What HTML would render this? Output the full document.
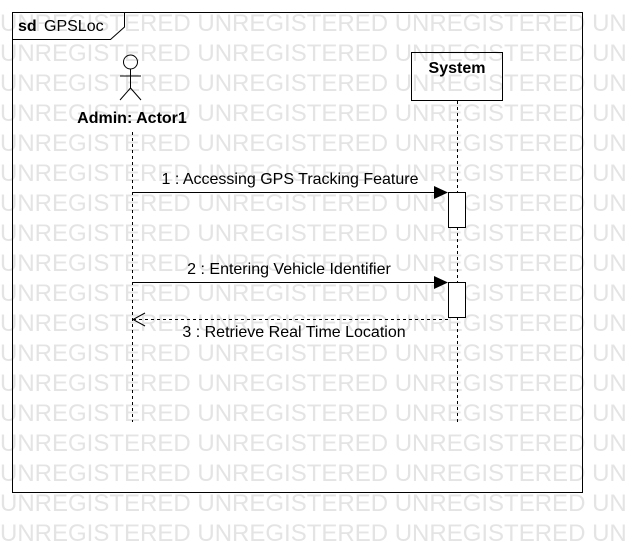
<!DOCTYPE html>
<html><head><style>
body{margin:0;width:632px;height:542px;background:#fff;overflow:hidden;font-family:"Liberation Sans",sans-serif}
</style></head><body>
<svg width="632" height="542" xmlns="http://www.w3.org/2000/svg" style="position:absolute;left:0;top:0">
<g font-family="Liberation Sans, sans-serif" font-size="24" fill="#e4e4e4">
<text x="0" y="31">UNREGISTERED UNREGISTERED UNREGISTERED UN</text>
<text x="0" y="61">UNREGISTERED UNREGISTERED UNREGISTERED UN</text>
<text x="0" y="91">UNREGISTERED UNREGISTERED UNREGISTERED UN</text>
<text x="0" y="121">UNREGISTERED UNREGISTERED UNREGISTERED UN</text>
<text x="0" y="151">UNREGISTERED UNREGISTERED UNREGISTERED UN</text>
<text x="0" y="181">UNREGISTERED UNREGISTERED UNREGISTERED UN</text>
<text x="0" y="211">UNREGISTERED UNREGISTERED UNREGISTERED UN</text>
<text x="0" y="241">UNREGISTERED UNREGISTERED UNREGISTERED UN</text>
<text x="0" y="271">UNREGISTERED UNREGISTERED UNREGISTERED UN</text>
<text x="0" y="301">UNREGISTERED UNREGISTERED UNREGISTERED UN</text>
<text x="0" y="331">UNREGISTERED UNREGISTERED UNREGISTERED UN</text>
<text x="0" y="361">UNREGISTERED UNREGISTERED UNREGISTERED UN</text>
<text x="0" y="391">UNREGISTERED UNREGISTERED UNREGISTERED UN</text>
<text x="0" y="421">UNREGISTERED UNREGISTERED UNREGISTERED UN</text>
<text x="0" y="451">UNREGISTERED UNREGISTERED UNREGISTERED UN</text>
<text x="0" y="481">UNREGISTERED UNREGISTERED UNREGISTERED UN</text>
<text x="0" y="511">UNREGISTERED UNREGISTERED UNREGISTERED UN</text>
<text x="0" y="541">UNREGISTERED UNREGISTERED UNREGISTERED UN</text>
</g>
<g stroke="#000" fill="none" stroke-width="1">
<rect x="12.5" y="12.5" width="570" height="480"/>
<path d="M12.5 39.5H110.5L124.5 27V12.5"/>
<circle cx="130.5" cy="62" r="7"/>
<path d="M130.5 69V88M120 76H141M130.5 88L120 100M130.5 88L141 100"/>
<rect x="411.5" y="52.5" width="91" height="48"/>
<path d="M132.5 132V422" stroke-dasharray="3,3"/>
<path d="M457.5 101V422" stroke-dasharray="3,3"/>
<rect x="448.5" y="192.5" width="17" height="35" fill="#fff"/>
<rect x="448.5" y="282.5" width="17" height="35" fill="#fff"/>
<path d="M132 192.5H436M132 282.5H436"/>
<path d="M448 319.5H134" stroke-dasharray="3,3"/>
<path d="M145 313L133 319.5L145 326"/>
</g>
<path d="M434 186L448 192.5L434 199Z M434 276L448 282.5L434 289Z" fill="#000"/>
<g font-family="Liberation Sans, sans-serif" font-size="16" fill="#000">
<text x="18" y="31" font-weight="bold">sd</text>
<text x="44" y="31">GPSLoc</text>
<text x="132" y="123" text-anchor="middle" font-weight="bold">Admin: Actor1</text>
<text x="457" y="73" text-anchor="middle" font-weight="bold">System</text>
<text x="290" y="184" text-anchor="middle">1 : Accessing GPS Tracking Feature</text>
<text x="289" y="274" text-anchor="middle">2 : Entering Vehicle Identifier</text>
<text x="294" y="337" text-anchor="middle">3 : Retrieve Real Time Location</text>
</g>
</svg>
</body></html>
